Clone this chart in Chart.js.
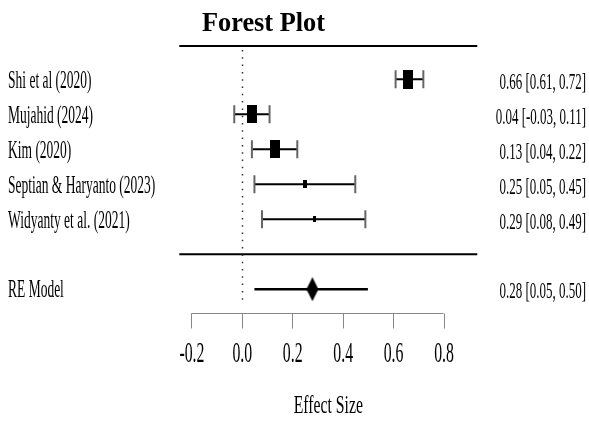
<!DOCTYPE html>
<html>
<head>
<meta charset="utf-8">
<script src="https://cdn.jsdelivr.net/npm/chart.js@4"></script>
<style>
  html, body { margin: 0; padding: 0; background: #fff; }
  #wrap { width: 589px; height: 421px; }
</style>
</head>
<body>
<div id="wrap"><canvas id="c" width="589" height="421"></canvas></div>
<script>
// ---- data ----
const studies = ["Shi et al (2020)", "Mujahid (2024)", "Kim (2020)", "Septian & Haryanto (2023)", "Widyanty et al. (2021)"];
const estimates = [0.66, 0.04, 0.13, 0.25, 0.29];
const lowers = [0.61, -0.03, 0.04, 0.05, 0.08];
const uppers = [0.72, 0.11, 0.22, 0.45, 0.49];
const relWeights = [1.0, 0.95, 0.95, 0.42, 0.32];
const pooledLabel = "RE Model";
const pooledEstimate = 0.28;
const pooledLower = 0.05;
const pooledUpper = 0.50;
const xTicks = [-0.2, 0.0, 0.2, 0.4, 0.6, 0.8];
const refValue = 0;
const titleText = "Forest Plot";
const xTitle = "Effect Size";

// ---- layout helpers ----
const n = studies.length;
const rowOf = i => n - i;      // study rows 5..1
const pooledRow = -1;
const sepRow = 0;

function boxCanvas(w, h) {
  const c = document.createElement('canvas');
  c.width = Math.max(2, Math.round(w));
  c.height = Math.max(2, Math.round(h));
  const g = c.getContext('2d');
  g.fillStyle = '#000';
  g.fillRect(0, 0, c.width, c.height);
  return c;
}
function diamondCanvas(w, h) {
  const c = document.createElement('canvas');
  c.width = w; c.height = h;
  const g = c.getContext('2d');
  g.fillStyle = '#000';
  g.beginPath();
  g.moveTo(w / 2, 0); g.lineTo(w, h / 2); g.lineTo(w / 2, h); g.lineTo(0, h / 2);
  g.closePath(); g.fill();
  return c;
}

const datasets = [];
// CI lines with end caps
studies.forEach((s, i) => {
  datasets.push({
    type: 'line',
    data: [{x: lowers[i], y: rowOf(i)}, {x: uppers[i], y: rowOf(i)}],
    borderColor: '#000',
    borderWidth: 2,
    pointStyle: 'line',
    rotation: 90,
    pointRadius: 9,
    pointBorderColor: '#666',
    pointBorderWidth: 2,
    order: 2
  });
});
// pooled CI line
datasets.push({
  type: 'line',
  data: [{x: pooledLower, y: pooledRow}, {x: pooledUpper, y: pooledRow}],
  borderColor: '#000',
  borderWidth: 2.5,
  pointRadius: 0,
  order: 2
});
// study boxes
datasets.push({
  type: 'scatter',
  data: estimates.map((e, i) => ({x: e, y: rowOf(i)})),
  pointStyle: relWeights.map(w => boxCanvas(10 * w, 19 * w)),
  pointRadius: 5,
  order: 0
});
// pooled diamond
datasets.push({
  type: 'scatter',
  data: [{x: pooledEstimate, y: pooledRow}],
  pointStyle: diamondCanvas(12, 24),
  pointRadius: 5,
  order: 0
});

function sText(ctx, text, x, y, font, sx, align) {
  ctx.save();
  ctx.font = font;
  ctx.fillStyle = '#000';
  ctx.textBaseline = 'alphabetic';
  ctx.translate(x, y);
  ctx.scale(sx, 1);
  ctx.textAlign = align;
  ctx.fillText(text, 0, 0);
  ctx.restore();
}

const decor = {
  id: 'decor',
  beforeDatasetsDraw(chart) {
    const ctx = chart.ctx, xs = chart.scales.x, ys = chart.scales.y, a = chart.chartArea;
    ctx.save();
    // top rule
    ctx.strokeStyle = '#000';
    ctx.lineWidth = 2;
    ctx.beginPath(); ctx.moveTo(a.left, ys.getPixelForValue(ys.max)); ctx.lineTo(a.right, ys.getPixelForValue(ys.max)); ctx.stroke();
    // separator
    ctx.lineWidth = 2;
    ctx.beginPath(); ctx.moveTo(a.left, ys.getPixelForValue(sepRow)); ctx.lineTo(a.right, ys.getPixelForValue(sepRow)); ctx.stroke();
    // dotted reference line
    const x0 = Math.round(xs.getPixelForValue(refValue)) + 0.5;
    ctx.strokeStyle = '#333';
    ctx.lineWidth = 1.5;
    ctx.setLineDash([1.5, 5.8]);
    ctx.beginPath(); ctx.moveTo(x0, ys.getPixelForValue(ys.max) + 4); ctx.lineTo(x0, ys.getPixelForValue(-1.45)); ctx.stroke();
    ctx.setLineDash([]);
    // x axis
    const yA = Math.round(a.bottom) + 0.5;
    ctx.strokeStyle = '#888';
    ctx.lineWidth = 1;
    ctx.beginPath();
    ctx.moveTo(xs.getPixelForValue(xTicks[0]), yA);
    ctx.lineTo(xs.getPixelForValue(xTicks[xTicks.length - 1]), yA);
    ctx.stroke();
    xTicks.forEach(t => {
      const px = Math.round(xs.getPixelForValue(t)) + 0.5;
      ctx.beginPath(); ctx.moveTo(px, yA); ctx.lineTo(px, yA + 15); ctx.stroke();
    });
    ctx.restore();
  },
  afterDraw(chart) {
    const ctx = chart.ctx, xs = chart.scales.x, ys = chart.scales.y, a = chart.chartArea;
    const f = '25px "Liberation Serif"';
    studies.forEach((s, i) => {
      const py = ys.getPixelForValue(rowOf(i));
      sText(ctx, s, 8, py + 9, f, 0.54, 'left');
      const lab = estimates[i].toFixed(2) + ' [' + lowers[i].toFixed(2) + ', ' + uppers[i].toFixed(2) + ']';
      sText(ctx, lab, 586, py + 10, '24px "Liberation Serif"', 0.54, 'right');
    });
    const pp = ys.getPixelForValue(pooledRow);
    sText(ctx, pooledLabel, 8, pp + 8, f, 0.54, 'left');
    sText(ctx, pooledEstimate.toFixed(2) + ' [' + pooledLower.toFixed(2) + ', ' + pooledUpper.toFixed(2) + ']', 586, pp + 9, '24px "Liberation Serif"', 0.54, 'right');
    xTicks.forEach(t => {
      sText(ctx, t.toFixed(1), xs.getPixelForValue(t) + 0.5, a.bottom + 49, '29px "Liberation Serif"', 0.545, 'center');
    });
    sText(ctx, xTitle, (a.left + a.right) / 2, 413, '25px "Liberation Serif"', 0.63, 'center');
    sText(ctx, titleText, 263.5, 31, 'bold 28px "Liberation Serif"', 0.94, 'center');
  }
};

new Chart(document.getElementById('c'), {
  type: 'scatter',
  data: { datasets },
  options: {
    responsive: false,
    animation: false,
    layout: { padding: { left: 179.3, right: 111.7, top: 46, bottom: 108.3 } },
    plugins: { legend: { display: false }, tooltip: { enabled: false }, title: { display: false } },
    scales: {
      x: { type: 'linear', min: -0.248, max: 0.934, display: false },
      y: { type: 'linear', min: -1.67, max: 5.95, display: false }
    },
    elements: { line: { tension: 0 } }
  },
  plugins: [decor]
});
</script>
</body>
</html>
